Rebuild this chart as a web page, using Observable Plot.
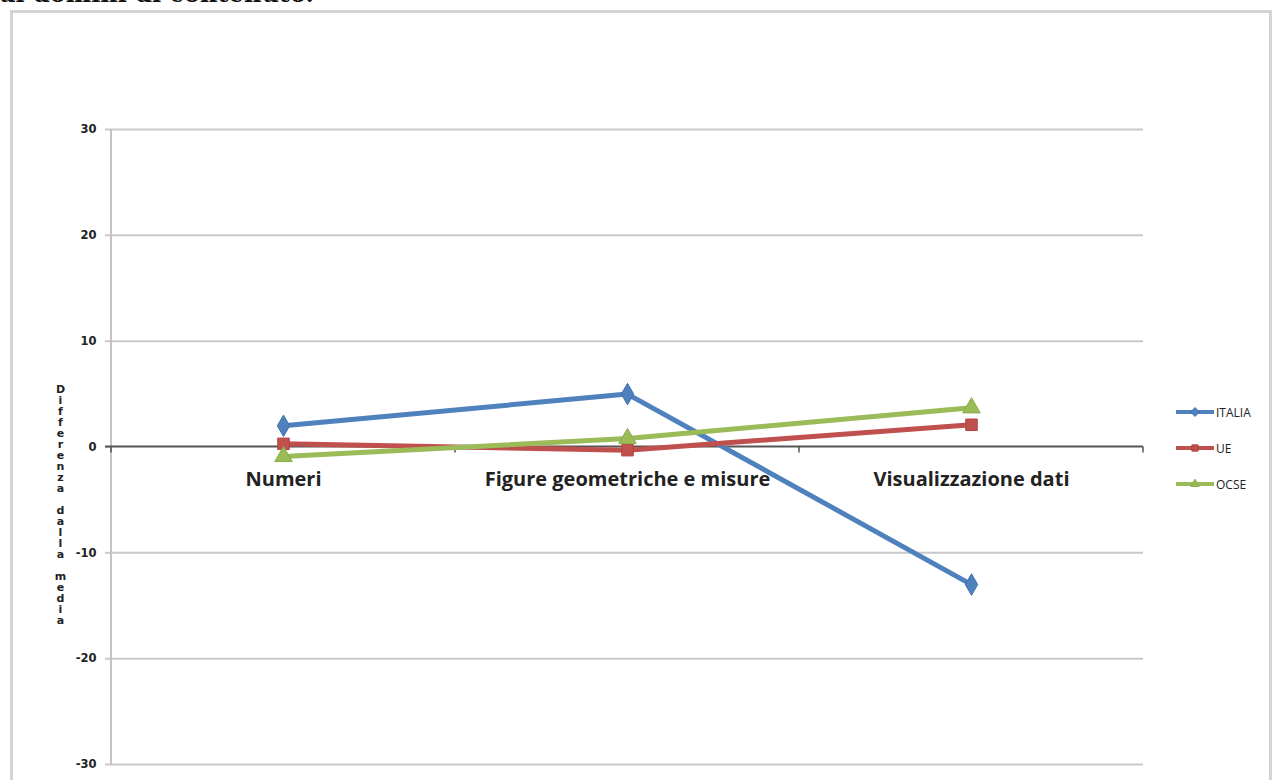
<!DOCTYPE html>
<html><head><meta charset="utf-8">
<script src="https://cdn.jsdelivr.net/npm/d3@7"></script>
<script src="https://cdn.jsdelivr.net/npm/@observablehq/plot@0.6"></script>
<style>
body{margin:0;background:#fff;width:1274px;height:780px;overflow:hidden;position:relative;}
#title{position:absolute;left:0;top:-20px;font:bold 24px "DejaVu Serif";white-space:nowrap;color:#111;line-height:28px}
#box{position:absolute;left:10px;top:10px;width:1256px;height:800px;border:3px solid #d4d4d4;}
#chart{position:absolute;left:0;top:0}
#legend{position:absolute;left:1174px;top:394px;font:12px "Open Sans";color:#222}
.lrow{display:flex;align-items:center;height:36px}
</style></head><body>
<div id="title">ai domini di contenuto.</div>
<div id="box"></div>
<div id="chart"></div>
<div id="legend"></div>
<script>
const categories = ["Numeri", "Figure geometriche e misure", "Visualizzazione dati"];
const series = ["ITALIA", "UE", "OCSE"];
const italia = [2, 5, -13];
const ue = [0.3, -0.3, 2.1];
const ocse = [-0.9, 0.8, 3.7];
const yTicks = [-30, -20, -10, 0, 10, 20, 30];
const yTitle = "Differenza dalla media";
const colors = ["#4f81bd", "#c0504d", "#9bbb59"];
const strokes = ["#3e6fae", "#b04542", "#8aab48"];
const symbols = ["diamond", "square", "triangle"];

const values = [italia, ue, ocse];
const data = [];
series.forEach((s, i) => categories.forEach((c, j) => data.push({series: s, category: c, value: values[i][j]})));

function frameLines(index, scales, vals, dims) {
  const g = d3.create("svg:g");
  const y0 = scales.y(0);
  const xs = categories.map(c => scales.x(c));
  const step = xs[1] - xs[0];
  const bounds = [xs[0] - step / 2, ...xs.map(x => x + step / 2)];
  const left = dims.marginLeft, right = dims.width - dims.marginRight;
  g.append("line").attr("x1", left).attr("x2", left)
    .attr("y1", dims.marginTop).attr("y2", dims.height - dims.marginBottom)
    .attr("stroke", "#c4c4c4").attr("stroke-width", 2);
  g.append("line").attr("x1", left - 6).attr("x2", right).attr("y1", y0).attr("y2", y0)
    .attr("stroke", "#555").attr("stroke-width", 2);
  bounds.forEach(b => g.append("line").attr("x1", b).attr("x2", b).attr("y1", y0).attr("y2", y0 + 6)
    .attr("stroke", "#555").attr("stroke-width", 1.5));
  return g.node();
}

const chart = Plot.plot({
  width: 1274, height: 780,
  marginLeft: 111, marginRight: 131, marginTop: 129, marginBottom: 16,
  style: {background: "transparent", overflow: "visible"},
  x: {type: "point", domain: categories, padding: 0.5, axis: null},
  y: {domain: [-30, 30], axis: null},
  color: {domain: series, range: colors},
  symbol: {domain: series, range: symbols},
  marks: [
    Plot.ruleY(yTicks.filter(t => t !== 0), {stroke: "#c8c8c8", strokeWidth: 2}),
    Plot.axisY({ticks: yTicks, tickSize: 6, tickPadding: 9, stroke: "#c8c8c8", strokeWidth: 2,
      tickFormat: d => String(d),
      fill: "#222", fontWeight: "bold", fontSize: 11.5, fontFamily: "DejaVu Sans", label: null}),
    frameLines,
    Plot.text(categories, {x: d => d, y: () => 0, dy: 33, fontSize: 20, fontWeight: "bold",
      fontFamily: "Open Sans", fill: "#222"}),
    Plot.text([yTitle], {frameAnchor: "left", dx: -51, dy: 58, text: d => d.split("").join("\n"),
      lineHeight: 1, fontSize: 11, fontWeight: "bold", fontFamily: "DejaVu Sans", fill: "#222",
      textAnchor: "middle"}),
    Plot.line(data, {x: "category", y: "value", z: "series", stroke: "series", strokeWidth: 5}),
    Plot.dot(data, {x: "category", y: "value", symbol: "series", fill: "series",
      stroke: d => strokes[series.indexOf(d.series)], strokeWidth: 1, r: 6.5})
  ]
});
document.getElementById("chart").append(chart);

const legend = d3.select("#legend");
series.forEach((s, i) => {
  const row = legend.append("div").attr("class", "lrow");
  const svg = row.append("svg").attr("width", 42).attr("height", 16);
  svg.append("line").attr("x1", 2).attr("x2", 40).attr("y1", 8).attr("y2", 8)
    .attr("stroke", colors[i]).attr("stroke-width", 4);
  svg.append("path").attr("transform", "translate(21,8)")
    .attr("d", d3.symbol(i === 0 ? d3.symbolDiamond2 : i === 1 ? d3.symbolSquare2 : d3.symbolTriangle2, 50)())
    .attr("fill", colors[i]).attr("stroke", strokes[i]);
  row.append("span").text(s);
});
</script>
</body></html>
